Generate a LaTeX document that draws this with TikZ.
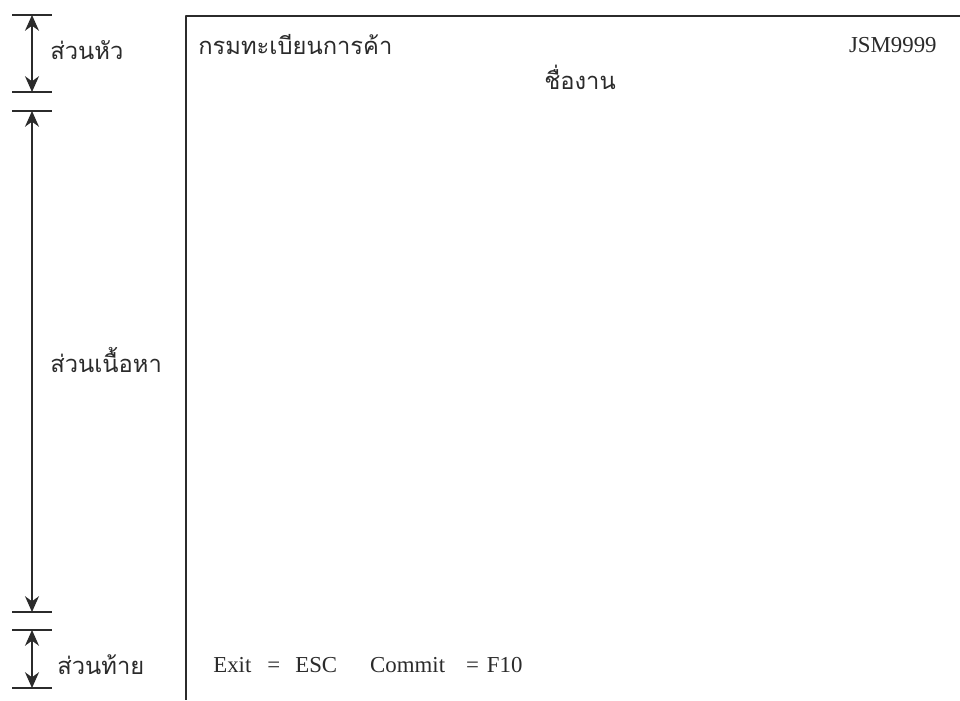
\documentclass[tikz,border=0pt]{standalone}
\usepackage{fontspec}
\setmainfont{Liberation Serif}
\newfontfamily\thaifont[Script=Thai]{Loma}
\usepackage{tikz}
\usetikzlibrary{arrows.meta}
\definecolor{ink}{HTML}{2B2B2B}
\tikzset{
  every picture/.style={line join=round, >=Stealth},
  frame/.style={line width=1.1pt, ink},
  tick/.style={line width=1pt, ink},
  span/.style={line width=0.8pt, ink, {Stealth[length=9pt,width=8pt]}-{Stealth[length=9pt,width=8pt]}},
  thlabel/.style={font=\thaifont\fontsize{13.5}{16}\selectfont, ink, inner sep=0pt},
  enlabel/.style={font=\fontsize{13}{16}\selectfont, ink, inner sep=0pt},
}

\begin{document}
\begin{tikzpicture}
\useasboundingbox (0,0) rectangle (19.2,14);
% screen frame
\draw[frame](19.2,13.68)--(3.72,13.68)--(3.72,0);
% dimension ticks
\coordinate (h1) at (0.64,13.70);
\coordinate (h2) at (0.64,12.16);
\coordinate (b1) at (0.64,11.78);
\coordinate (b2) at (0.64,1.76);
\coordinate (f1) at (0.64,1.40);
\coordinate (f2) at (0.64,0.24);
\foreach \c in {h1,h2,b1,b2,f1,f2}
  \draw[tick]([xshift=-0.40cm]\c)--([xshift=0.40cm]\c);
\draw[span](h1)--(h2);
\draw[span](b1)--(b2);
\draw[span](f1)--(f2);
% section labels
\node[thlabel,anchor=west] (head) at (1.00,13.00) {ส่วนหัว};
\node[thlabel,anchor=west] (body) at (1.00,6.80) {ส่วนเนื้อหา};
\node[thlabel,anchor=west] (foot) at (1.14,0.70) {ส่วนท้าย};
% screen contents
\node[thlabel,anchor=west] (dept) at (3.96,13.10) {กรมทะเบียนการค้า};
\node[enlabel,anchor=east] (code) at (18.74,13.10) {JSM9999};
\node[thlabel] (title) at (11.60,12.45) {ชื่องาน};
\node[enlabel,anchor=west] (keys) at (4.26,0.70)
  {Exit\hspace{0.32cm}=\hspace{0.30cm}ESC\hspace{0.66cm}Commit\hspace{0.42cm}=\hspace{0.16cm}F10};
\end{tikzpicture}
\end{document}
